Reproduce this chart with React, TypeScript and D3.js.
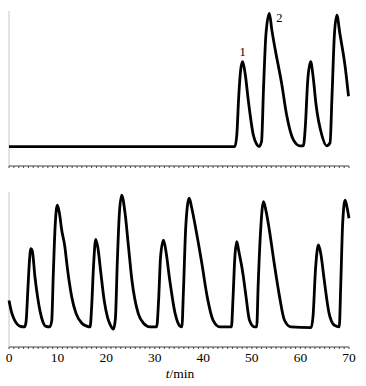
import React from "react";
import * as d3 from "d3";

// Upper trace: [t (min), signal]
const topSeries: [number, number][] = [
  [0, 12.5], [46.5, 12.5], [46.9, 20], [47.3, 45], [47.7, 62], [48.1, 67.3], [48.6, 60],
  [49.3, 41.5], [50.3, 20], [51.0, 14], [51.5, 12.5], [52.0, 16], [52.4, 50], [52.9, 85],
  [53.6, 98.5], [54.1, 88], [54.8, 75.3], [56.1, 53.8], [57.2, 32.3], [58.5, 17.2],
  [59.9, 13], [60.6, 13], [61.0, 25], [61.5, 55], [62.1, 67.3], [62.6, 58], [63.2, 40],
  [64.4, 20], [65.4, 13], [66.1, 15], [66.5, 45], [67.0, 85], [67.5, 97.4], [68.1, 85.8],
  [69.2, 64.3], [69.9, 45],
];

// Lower trace: [t (min), signal]
const bottomSeries: [number, number][] = [
  [0, 30], [0.4, 24], [0.9, 19], [1.5, 15.5], [2.2, 13.5], [3.2, 13], [3.5, 16], [3.9, 38],
  [4.2, 55], [4.5, 63.5], [4.8, 62], [5.35, 45], [5.9, 32], [6.4, 23], [7.0, 16], [7.5, 13.5],
  [8.4, 13], [8.8, 17], [9.1, 45], [9.5, 78], [9.95, 91.5], [10.4, 86], [10.85, 75.5],
  [11.5, 64.7], [11.9, 54], [12.35, 43.2], [12.9, 32.5], [13.8, 21.7], [15.0, 15.3],
  [16.0, 13.5], [16.7, 13], [17.0, 25], [17.4, 52], [17.85, 69.5], [18.3, 64], [18.9, 48],
  [19.6, 30], [20.3, 19], [20.9, 14], [21.5, 11.5], [21.9, 18], [22.3, 55], [22.7, 85],
  [23.2, 98], [23.9, 86.2], [24.6, 64.7], [25.3, 43.2], [26.6, 21.7], [27.7, 15.3],
  [29.0, 13], [30.4, 13], [30.8, 30], [31.2, 58], [31.8, 69], [32.3, 62], [33.1, 43],
  [34.2, 21.7], [35.2, 13.5], [35.6, 13], [35.9, 35], [36.4, 78], [37.1, 96], [37.6, 90],
  [38.5, 75.5], [39.7, 54], [40.8, 32.5], [42.0, 17.4], [43.4, 13], [45.8, 13], [46.1, 30],
  [46.5, 58], [46.9, 68], [47.3, 62], [47.8, 54], [48.2, 46.5], [48.8, 32.5], [49.5, 17.4],
  [50.5, 13], [51.0, 13], [51.3, 40], [51.8, 75], [52.4, 93.8], [52.9, 88], [53.6, 75.5],
  [54.6, 54], [55.7, 32.5], [56.7, 17.4], [58.0, 13], [62.2, 12.5], [62.6, 20], [63.1, 50],
  [63.7, 65.8], [64.2, 60], [64.9, 43.2], [65.9, 21.7], [67.0, 14], [68.0, 13], [68.3, 40],
  [68.7, 80], [69.2, 94.8], [69.6, 90], [70, 83],
];

const xTicks = [0, 10, 20, 30, 40, 50, 60, 70];
const peakLabels = ["1", "2"];
const peakLabelTimes = [48.1, 53.6];

const W = 366;
const H = 386;
const FONT = "Liberation Serif, Times New Roman, DejaVu Serif, serif";

export default function App() {
  const x = d3.scaleLinear().domain([0, 70]).range([9, 349]);
  const yTop = d3.scaleLinear().domain([0, 100]).range([166, 11]);
  const yBot = d3.scaleLinear().domain([0, 100]).range([347, 192]);

  const lineTop = d3
    .line<[number, number]>()
    .x((d) => x(d[0]))
    .y((d) => yTop(d[1]))
    .curve(d3.curveMonotoneX);
  const lineBot = d3
    .line<[number, number]>()
    .x((d) => x(d[0]))
    .y((d) => yBot(d[1]))
    .curve(d3.curveMonotoneX);

  const minor = d3.range(0, 71, 1);

  const axis = (y0: number, key: string) => (
    <g key={key}>
      <line x1={x(0)} x2={x(70)} y1={y0} y2={y0} stroke="#444" strokeWidth={1} />
      {minor.map((t) => (
        <line key={t} x1={x(t)} x2={x(t)} y1={y0} y2={y0 + 2} stroke="#444" strokeWidth={1} />
      ))}
    </g>
  );

  const valAt = (series: [number, number][], t: number) => {
    const p = series.find((d) => d[0] === t);
    return p ? p[1] : 0;
  };

  const txt = { fontFamily: FONT };

  return (
    <svg
      width={W}
      height={H}
      style={{ position: "absolute", left: 0, top: 0, background: "#fff" }}
    >
      {/* left axes */}
      <line x1={x(0)} x2={x(0)} y1={yTop(100)} y2={yTop(0)} stroke="#c8c8c8" strokeWidth={1} />
      <line x1={x(0)} x2={x(0)} y1={yBot(100)} y2={yBot(0)} stroke="#c8c8c8" strokeWidth={1} />
      {axis(yTop(0), "top")}
      {axis(yBot(0), "bot")}

      <path d={lineTop(topSeries) || ""} fill="none" stroke="#000" strokeWidth={2.8} strokeLinejoin="round" />
      <path d={lineBot(bottomSeries) || ""} fill="none" stroke="#000" strokeWidth={2.8} strokeLinejoin="round" />

      {/* peak labels */}
      <text
        x={x(peakLabelTimes[0])}
        y={yTop(valAt(topSeries, peakLabelTimes[0])) - 6}
        textAnchor="middle"
        fontSize={12.5}
        fill="#000"
        style={txt}
      >
        {peakLabels[0]}
      </text>
      <text
        x={x(peakLabelTimes[1]) + 7}
        y={yTop(valAt(topSeries, peakLabelTimes[1])) + 9}
        textAnchor="start"
        fontSize={12.5}
        fill="#000"
        style={txt}
      >
        {peakLabels[1]}
      </text>

      {xTicks.map((t) => (
        <text key={t} x={x(t)} y={362} textAnchor="middle" fontSize={13.5} fill="#000" style={txt}>
          {t}
        </text>
      ))}
      <text x={180} y={378} textAnchor="middle" fontSize={13.5} fill="#000" style={txt}>
        <tspan fontStyle="italic">t</tspan>/min
      </text>
    </svg>
  );
}
